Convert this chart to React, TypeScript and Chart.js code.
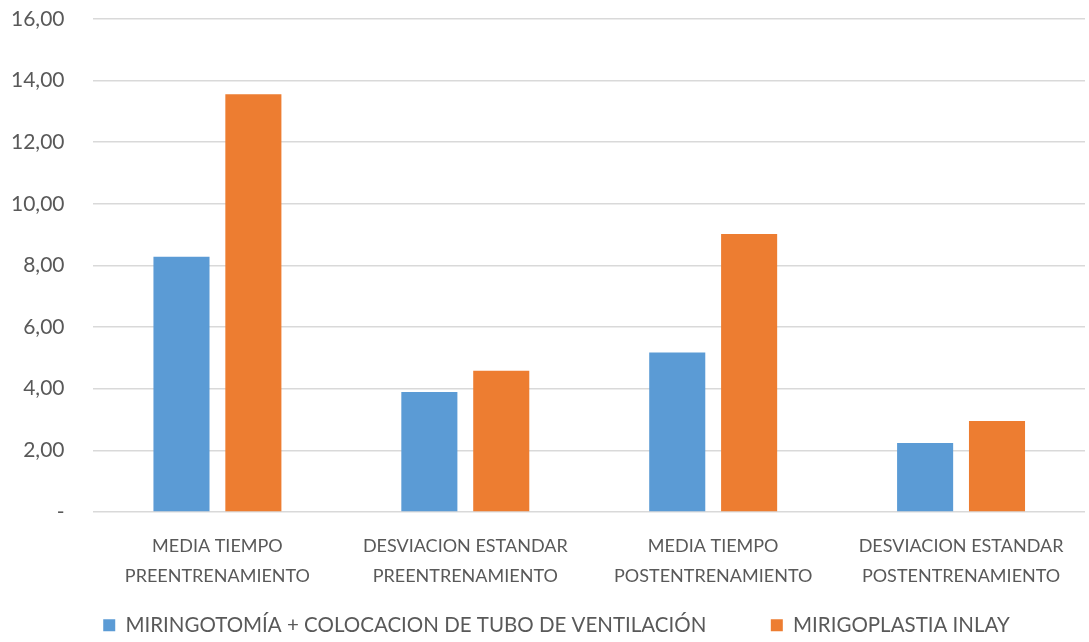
import React, { useEffect, useRef } from "react";
import { Chart, registerables } from "chart.js";

Chart.register(...registerables);

const categories: string[][] = [
  ["MEDIA TIEMPO", "PREENTRENAMIENTO"],
  ["DESVIACION ESTANDAR", "PREENTRENAMIENTO"],
  ["MEDIA TIEMPO", "POSTENTRENAMIENTO"],
  ["DESVIACION ESTANDAR", "POSTENTRENAMIENTO"],
];
const seriesNames = [
  "MIRINGOTOMÍA + COLOCACION DE TUBO DE VENTILACIÓN",
  "MIRIGOPLASTIA INLAY",
];
const miringotomiaValues = [8.28, 3.89, 5.17, 2.24];
const mirigoplastiaValues = [13.56, 4.58, 9.02, 2.95];
const yTicks = [0, 2, 4, 6, 8, 10, 12, 14, 16];

const FONT = "Lato, 'Open Sans', sans-serif";
const TEXT = "#595959";

const shiftLegend = {
  id: "shiftLegend",
  afterLayout(chart: any) {
    if (chart.legend) {
      chart.legend.left += 23;
      chart.legend.right += 23;
    }
  },
};

export default function App() {
  const ref = useRef<HTMLCanvasElement>(null);
  useEffect(() => {
    if (!ref.current) return;
    const chart = new Chart(ref.current, {
      type: "bar",
      plugins: [shiftLegend],
      data: {
        labels: categories,
        datasets: [
          {
            label: seriesNames[0],
            data: miringotomiaValues,
            backgroundColor: "#5B9BD5",
            categoryPercentage: 0.58,
            barPercentage: 0.78,
          },
          {
            label: seriesNames[1],
            data: mirigoplastiaValues,
            backgroundColor: "#ED7D31",
            categoryPercentage: 0.58,
            barPercentage: 0.78,
          },
        ],
      },
      options: {
        animation: false,
        responsive: false,
        maintainAspectRatio: false,
        layout: { padding: { top: 0, right: 4, left: -18, bottom: -3.5 } },
        plugins: {
          tooltip: { enabled: false },
          legend: {
            position: "bottom",
            labels: {
              boxWidth: 12,
              boxHeight: 12,
              padding: 13,
              color: TEXT,
              font: { family: FONT, size: 20.5 },
              generateLabels: (c: any) => {
                const items = Chart.defaults.plugins.legend.labels.generateLabels(c);
                if (items.length > 0) items[0].text = items[0].text + "\u2002\u2002\u2002\u2002  ";
                return items;
              },
            },
          },
        },
        scales: {
          x: {
            grid: { display: false },
            border: { display: false },
            ticks: {
              color: TEXT,
              font: { family: FONT, size: 18, lineHeight: 1.67 },
              padding: 11,
              maxRotation: 0,
              autoSkip: false,
            },
          },
          y: {
            min: 0,
            max: 16,
            afterBuildTicks: (axis: any) => {
              axis.ticks = yTicks.map((v) => ({ value: v }));
            },
            afterFit: (axis: any) => {
              axis.paddingTop = 19;
            },
            grid: { color: "#d9d9d9", lineWidth: 1.5, drawTicks: false },
            border: { display: false },
            ticks: {
              color: TEXT,
              font: { family: FONT, size: 21 },
              padding: 29,
              callback: (v: any) =>
                Number(v) === 0 ? "-" : Number(v).toFixed(2).replace(".", ","),
            },
          },
        },
      },
    });
    return () => chart.destroy();
  }, []);
  return (
    <div style={{ position: "fixed", left: 0, top: 0, width: 1089, height: 642, background: "#fff" }}>
      <canvas ref={ref} width={1089} height={642} style={{ width: 1089, height: 642 }} />
    </div>
  );
}
